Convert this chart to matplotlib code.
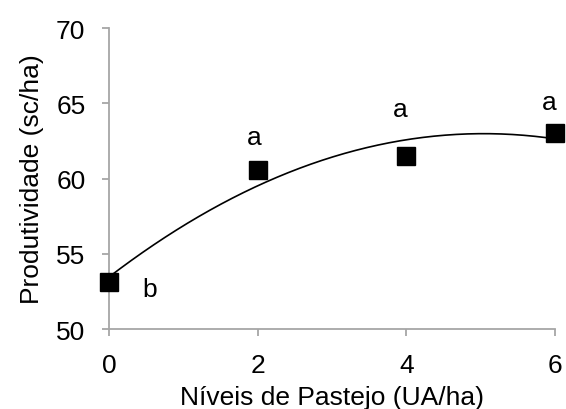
import numpy as np
import matplotlib
matplotlib.use("Agg")
import matplotlib.pyplot as plt

plt.rcParams['font.family'] = ['Liberation Sans', 'DejaVu Sans']

x_levels = [0, 2, 4, 6]
productivity = [53.1, 60.6, 61.5, 63.0]
letters = ['b', 'a', 'a', 'a']
letter_x = [0.55, 1.96, 3.92, 5.92]
letter_y = [52.66, 62.76, 64.6, 65.1]
x_ticks = [0, 2, 4, 6]
y_ticks = [50, 55, 60, 65, 70]

fig = plt.figure(figsize=(5.66, 4.10), dpi=100)
ax = fig.add_axes([0.1926, 0.195, 0.788, 0.734])

coef = np.polyfit(x_levels, productivity, 2)
xs = np.linspace(0, 6, 200)
ax.plot(xs, np.polyval(coef, xs), color='black', lw=1.2, zorder=2)
ax.plot(x_levels, productivity, 's', color='black', ms=12.5, clip_on=False, zorder=3)

for lx, ly, t in zip(letter_x, letter_y, letters):
    ax.text(lx, ly, t, ha='center', va='center', fontsize=19)

ax.set_xlim(0, 6)
ax.set_ylim(50, 70)
ax.set_xticks(x_ticks)
ax.set_yticks(y_ticks)
for s in ['top', 'right']:
    ax.spines[s].set_visible(False)
for s in ['left', 'bottom']:
    ax.spines[s].set_color('#A6A6A6')
    ax.spines[s].set_linewidth(1.3)
ax.tick_params(direction='out', length=5, width=1.3, color='#A6A6A6', labelsize=19)
ax.tick_params(axis='x', pad=12)
ax.tick_params(axis='y', pad=12)
ax.set_xlabel('Níveis de Pastejo (UA/ha)', fontsize=19, labelpad=6)
ax.set_ylabel('Produtividade (sc/ha)', fontsize=19, labelpad=9)

fig.savefig('out.png', dpi=100)
